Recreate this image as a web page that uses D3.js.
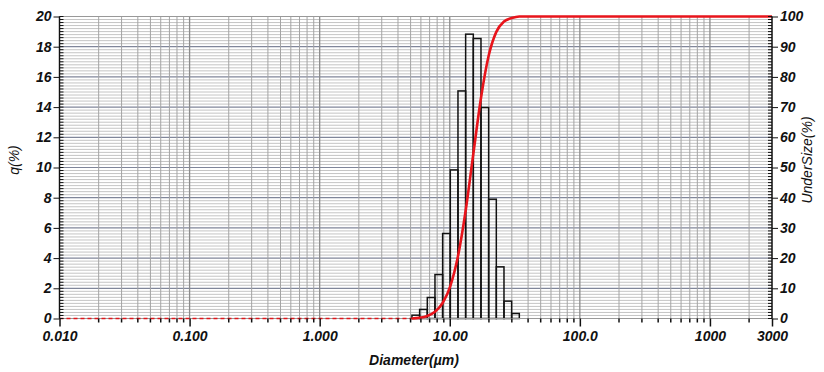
<!DOCTYPE html>
<html><head><meta charset="utf-8">
<script src="https://cdn.jsdelivr.net/npm/d3@7"></script>
<style>body{margin:0;background:#fff}svg{display:block}text{font-family:"Liberation Sans",Arial,sans-serif;font-weight:bold;font-style:italic;fill:#111}</style>
</head><body><svg id="c" width="824" height="372"></svg>
<script>
// Bin edges (µm) and frequency q(%)
const binEdges = [5.122, 5.867, 6.720, 7.697, 8.816, 10.097, 11.565, 13.246, 15.172, 17.377, 19.904, 22.797, 26.111, 29.907, 34.255];
const qValues  = [0.22, 0.60, 1.39, 2.91, 5.63, 9.84, 15.07, 18.83, 18.54, 13.97, 7.90, 3.42, 1.15, 0.33];
// Cumulative undersize (%) at diameters
const cumDiam  = [5.122, 5.867, 6.720, 7.697, 8.816, 10.097, 11.565, 13.246, 15.172, 17.377, 19.904, 22.797, 26.111, 29.907, 34.255, 3000];
const cumValue = [0, 0.22, 0.82, 2.21, 5.12, 10.75, 20.59, 35.66, 54.49, 73.03, 87.0, 94.9, 98.32, 99.47, 100, 100];
const xTickValues = [0.01, 0.1, 1, 10, 100, 1000, 3000];
const xTickLabels = ["0.010", "0.100", "1.000", "10.00", "100.0", "1000", "3000"];
const yLeftTicks = [0, 2, 4, 6, 8, 10, 12, 14, 16, 18, 20];
const yRightTicks = [0, 10, 20, 30, 40, 50, 60, 70, 80, 90, 100];

const svg = d3.select("#c");
const L = 59.5, R = 772, T = 16.5, B = 318.5;
const x = d3.scaleLog().domain([0.01, 3000]).range([L, R]);
const yl = d3.scaleLinear().domain([0, 20]).range([B, T]);
const yr = d3.scaleLinear().domain([0, 100]).range([B, T]);

const logMinor = [];
for (let e = -2; e <= 3; e++) for (let m = 1; m <= 9; m++) { const v = m * Math.pow(10, e); if (v >= 0.01 && v <= 3000) logMinor.push(v); }
const fineY = d3.range(0, 20.001, 0.2);
const isMajorY = d => Math.abs(d/2 - Math.round(d/2)) < 1e-6;

const g = svg.append("g");
g.selectAll(".hg").data(fineY).enter().append("line")
  .attr("x1", L).attr("x2", R).attr("y1", d => yl(d)).attr("y2", d => yl(d))
  .attr("stroke", d => isMajorY(d) ? "#80869a" : "#bdbdbd")
  .attr("stroke-width", d => isMajorY(d) ? 1.2 : 0.9);
g.selectAll(".vg").data(logMinor).enter().append("line")
  .attr("x1", d => x(d)).attr("x2", d => x(d)).attr("y1", T).attr("y2", B)
  .attr("stroke", d => xTickValues.includes(d) ? "#8c8c8c" : "#a4a4a4")
  .attr("stroke-width", d => xTickValues.includes(d) ? 1.3 : 1);
g.append("line").attr("x1", L).attr("x2", R).attr("y1", T).attr("y2", T).attr("stroke", "#999");

const bars = qValues.map((v, i) => ({x0: binEdges[i], x1: binEdges[i+1], v}));
g.selectAll(".bar").data(bars).enter().append("rect")
  .attr("x", d => x(d.x0)).attr("width", d => x(d.x1) - x(d.x0))
  .attr("y", d => yl(d.v)).attr("height", d => yl(0) - yl(d.v))
  .attr("fill", "none").attr("stroke", "#111").attr("stroke-width", 1.5);

g.append("line").attr("x1", L).attr("x2", R).attr("y1", B).attr("y2", B).attr("stroke", "#999").attr("stroke-width", 1);
g.append("line").attr("x1", L).attr("x2", x(cumDiam[0])).attr("y1", yr(0)).attr("y2", yr(0))
  .attr("stroke", "#e0161b").attr("stroke-width", 1.5).attr("stroke-dasharray", "4,3");

const pts = cumDiam.map((d, i) => [d, cumValue[i]]);
g.append("path").datum(pts)
  .attr("d", d3.line().x(d => x(d[0])).y(d => yr(d[1])).curve(d3.curveMonotoneX))
  .attr("fill", "none").attr("stroke", "#e8141b").attr("stroke-width", 2.6);

const la = svg.append("g").attr("transform", `translate(${L},0)`);
la.append("line").attr("y1", T).attr("y2", B).attr("stroke", "#111").attr("stroke-width", 1.3);
la.selectAll(".mt").data(fineY).enter().append("line").attr("x1", 0).attr("x2", 4)
  .attr("y1", d => yl(d)).attr("y2", d => yl(d)).attr("stroke", "#111").attr("stroke-width", 1);
la.call(d3.axisLeft(yl).tickValues(yLeftTicks).tickSize(6).tickFormat(d3.format("d")))
  .call(a => a.select(".domain").remove())
  .call(a => a.selectAll("text").attr("font-size", 14).attr("dx", "1px"));

const ra = svg.append("g").attr("transform", `translate(${R},0)`);
ra.append("line").attr("y1", T).attr("y2", B).attr("stroke", "#111").attr("stroke-width", 1.3);
ra.selectAll(".mt").data(fineY).enter().append("line").attr("x1", 0).attr("x2", -4)
  .attr("y1", d => yl(d)).attr("y2", d => yl(d)).attr("stroke", "#111").attr("stroke-width", 1);
ra.call(d3.axisRight(yr).tickValues(yRightTicks).tickSize(6).tickFormat(d3.format("d")))
  .call(a => a.select(".domain").remove())
  .call(a => a.selectAll("text").attr("font-size", 14).attr("dx", "-1px"));

const ba = svg.append("g").attr("transform", `translate(0,${B})`);
ba.selectAll(".mt").data(logMinor.filter(d => !xTickValues.includes(d))).enter().append("line")
  .attr("x1", d => x(d)).attr("x2", d => x(d)).attr("y1", 0).attr("y2", 4).attr("stroke", "#111").attr("stroke-width", 1.2);
ba.call(d3.axisBottom(x).tickValues(xTickValues).tickSize(8).tickFormat((d, i) => xTickLabels[i]))
  .call(a => a.select(".domain").remove())
  .call(a => a.selectAll("line").attr("stroke-width", 1.5))
  .call(a => a.selectAll("text").attr("font-size", 14).attr("dy", "0.85em"));
svg.selectAll(".tick line").attr("stroke", "#111");
svg.selectAll(".tick text").style("fill", "#111").attr("font-family", null);

svg.append("text").attr("x", 414).attr("y", 365).attr("text-anchor", "middle").attr("font-size", 14).style("font-weight", "600").text("Diameter(µm)");
svg.append("text").attr("transform", "translate(19,160) rotate(-90)").attr("text-anchor", "middle").attr("font-size", 14).style("font-weight", "normal").text("q(%)");
svg.append("text").attr("transform", "translate(812,160) rotate(-90)").attr("text-anchor", "middle").attr("font-size", 14).style("font-weight", "normal").text("UnderSize(%)");
</script></body></html>
